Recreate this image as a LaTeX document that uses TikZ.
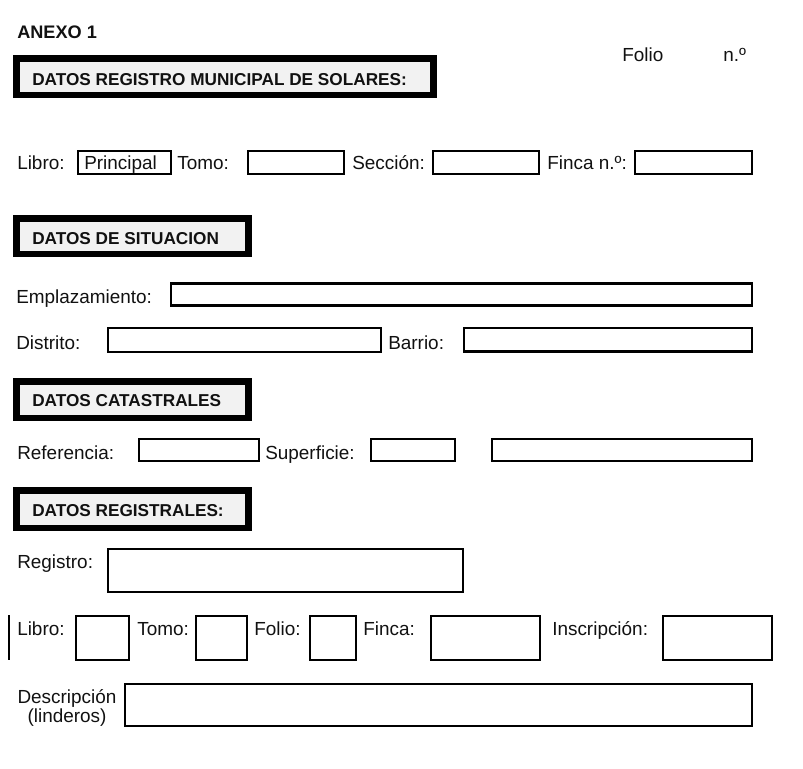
\documentclass[tikz,border=0pt]{standalone}
\usepackage{fontspec}
\setmainfont{Liberation Sans}
\definecolor{hgray}{HTML}{F2F2F2}
\definecolor{ink}{HTML}{111111}
\begin{document}
\begin{tikzpicture}[x=0.75pt,y=-0.75pt,
  lbl/.style={anchor=base west, inner sep=0pt, text=ink, font=\fontsize{14.2}{16}\selectfont},
  hdr/.style={anchor=base west, inner sep=0pt, text=ink, font=\fontsize{12.9}{15}\selectfont\bfseries},
  hbox/.style={draw=black, line width=4.9pt, fill=hgray},
  fbox/.style={draw=black, line width=1.65pt},
  fboxb/.style={draw=black, line width=2.2pt},
  vline/.style={draw=black, line width=1.1pt}]
\useasboundingbox (0,0) rectangle (803,768);
% title
\node[hdr, font=\fontsize{13.6}{15}\selectfont\bfseries] (anexo) at (17,38) {ANEXO 1};
\node[lbl] (folio) at (622,61) {Folio};
\node[lbl] (nro) at (723,61) {n.º};
% header boxes
\draw[hbox] (16.5,58.5) rectangle (433.5,95);
\node[hdr] (h1) at (32,85) {DATOS REGISTRO MUNICIPAL DE SOLARES:};
\draw[hbox] (16.5,218.5) rectangle (248.5,254);
\node[hdr] (h2) at (32,244) {DATOS DE SITUACION};
\draw[hbox] (16.5,381.5) rectangle (248.5,418);
\node[hdr] (h3) at (32,406) {DATOS CATASTRALES};
\draw[hbox] (16.5,490.5) rectangle (248.5,528);
\node[hdr] (h4) at (32,516) {DATOS REGISTRALES:};
% row 1
\node[lbl] (l1) at (17,169) {Libro:};
\draw[fboxb] (78,151) rectangle (171,174);
\node[lbl] (princ) at (84,169) {Principal};
\node[lbl] (t1) at (177,169) {Tomo:};
\draw[fboxb] (248,151) rectangle (344,174);
\node[lbl] (s1) at (352,169) {Sección:};
\draw[fboxb] (433,151) rectangle (539,174);
\node[lbl] (f1) at (547,169) {Finca n.º:};
\draw[fboxb] (635,151) rectangle (752,174);
% situacion
\node[lbl] (empl) at (16,303) {Emplazamiento:};
\draw[fboxb] (171,283.5) rectangle (752,305.5);
\node[lbl] (dist) at (16,349) {Distrito:};
\draw[fboxb] (108,328) rectangle (381,352);
\node[lbl] (barr) at (388,349) {Barrio:};
\draw[fboxb] (464,328) rectangle (752,351.5);
% catastrales
\node[lbl] (ref) at (17,459) {Referencia:};
\draw[fbox] (139,439) rectangle (259,461);
\node[lbl] (sup) at (265,459) {Superficie:};
\draw[fbox] (371,439) rectangle (455,461);
\draw[fbox] (492,439) rectangle (752,461);
% registrales
\node[lbl] (reg) at (17,568) {Registro:};
\draw[fbox] (108,549) rectangle (463,592);
\draw[vline] (9,615) -- (9,660);
\node[lbl] (l2) at (17,635) {Libro:};
\draw[fbox] (76,616) rectangle (129,660);
\node[lbl] (t2) at (137,635) {Tomo:};
\draw[fbox] (196,616) rectangle (247,660);
\node[lbl] (fo2) at (254,635) {Folio:};
\draw[fbox] (310,616) rectangle (356,660);
\node[lbl] (fi2) at (363,635) {Finca:};
\draw[fbox] (431,616) rectangle (540,660);
\node[lbl] (ins) at (552,635) {Inscripción:};
\draw[fbox] (663,616) rectangle (772,660);
\node[lbl, anchor=base] (desc) at (67,703) {Descripción};
\node[lbl, anchor=base] (lind) at (67,722) {(linderos)};
\draw[fbox] (125,684) rectangle (752,726);
\end{tikzpicture}
\end{document}
